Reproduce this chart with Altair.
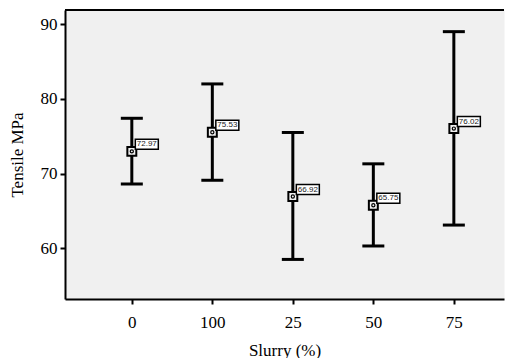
import altair as alt
import pandas as pd

categories = ["0", "100", "25", "50", "75"]
means = [72.97, 75.53, 66.92, 65.75, 76.02]
lower = [68.6, 69.1, 58.5, 60.3, 63.1]
upper = [77.4, 82.0, 75.5, 71.3, 89.0]
labels = ["72.97", "75.53", "66.92", "65.75", "76.02"]

df = pd.DataFrame({
    "cat": categories,
    "idx": list(range(len(categories))),
    "mean": means,
    "lo": lower,
    "hi": upper,
    "lab": labels,
})

W, H = 439, 289
xs = alt.Scale(domain=[-0.83, 4.623], nice=False, zero=False)
ys = alt.Scale(domain=[53.2, 91.9], nice=False, zero=False)

label_expr = "['0','100','25','50','75'][datum.value]"

X = alt.X("idx:Q", scale=xs, title="Slurry (%)",
          axis=alt.Axis(values=[0, 1, 2, 3, 4], labelExpr=label_expr, grid=False,
                        domainColor="black", domainWidth=2, tickColor="black",
                        tickWidth=2, tickSize=5, labelPadding=10, titlePadding=12,
                        labelFont="Liberation Serif", labelFontSize=17,
                        labelColor="black", titleFont="Liberation Serif",
                        titleFontSize=17, titleFontWeight="normal", titleColor="black"))
Y = alt.Y("lo:Q", scale=ys, title="Tensile MPa",
          axis=alt.Axis(values=[60, 70, 80, 90], grid=False, domainColor="black",
                        domainWidth=2, tickColor="black", tickWidth=2, tickSize=5,
                        labelPadding=3, titlePadding=14,
                        labelFont="Liberation Serif", labelFontSize=17,
                        labelColor="black", titleFont="Liberation Serif",
                        titleFontSize=17, titleFontWeight="normal", titleColor="black"))

base = alt.Chart(df)

bars = base.mark_rule(color="black", strokeWidth=3, opacity=1).encode(x=X, y=Y, y2="hi:Q")
cap_lo = base.mark_tick(orient="horizontal", size=22, thickness=3, color="black",
                        opacity=1).encode(
    x=alt.X("idx:Q", scale=xs), y=alt.Y("lo:Q", scale=ys))
cap_hi = base.mark_tick(orient="horizontal", size=22, thickness=3, color="black",
                        opacity=1).encode(
    x=alt.X("idx:Q", scale=xs), y=alt.Y("hi:Q", scale=ys))
marker = base.mark_point(shape="square", size=80, filled=True, fill="#f0f0f0",
                         stroke="black", strokeWidth=2, opacity=1).encode(
    x=alt.X("idx:Q", scale=xs), y=alt.Y("mean:Q", scale=ys))
dot = base.mark_point(shape="circle", size=10, filled=False, stroke="black",
                      strokeWidth=1.2, opacity=1).encode(
    x=alt.X("idx:Q", scale=xs), y=alt.Y("mean:Q", scale=ys))
box = base.mark_rect(width=23, height=10, xOffset=15, yOffset=-7, fill="white",
                     stroke="black", strokeWidth=1.5, opacity=1).encode(
    x=alt.X("idx:Q", scale=xs), y=alt.Y("mean:Q", scale=ys))
txt = base.mark_text(xOffset=15, yOffset=-7, fontSize=8, font="Liberation Sans",
                     color="#222222").encode(
    x=alt.X("idx:Q", scale=xs), y=alt.Y("mean:Q", scale=ys), text="lab:N")
top = alt.Chart(pd.DataFrame({"a": [0]})).mark_rule(color="black", strokeWidth=2).encode(
    x=alt.value(0), x2=alt.value(W), y=alt.value(0))

chart = alt.layer(bars, cap_lo, cap_hi, marker, dot, box, txt, top).properties(
    width=W, height=H,
    padding={"left": 0, "top": 1, "right": 0, "bottom": 0},
    background="white",
).configure_view(fill="#f0f0f0", stroke="transparent")

chart.save("out.html", embed_options={"renderer": "svg", "actions": False})
